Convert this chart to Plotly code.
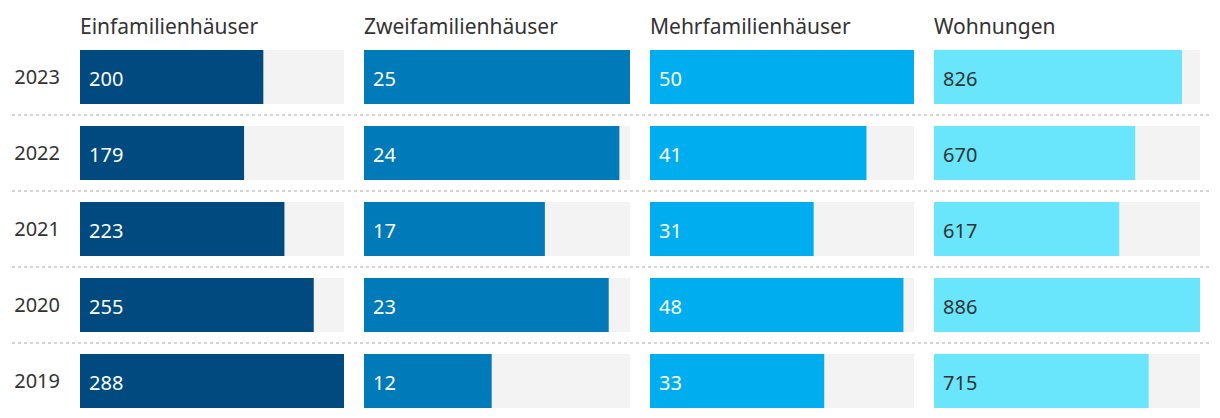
import plotly.graph_objects as go

years = ["2023", "2022", "2021", "2020", "2019"]
titles = ["Einfamilienhäuser", "Zweifamilienhäuser", "Mehrfamilienhäuser", "Wohnungen"]
einfamilien = [200, 179, 223, 255, 288]
zweifamilien = [25, 24, 17, 23, 12]
mehrfamilien = [50, 41, 31, 48, 33]
wohnungen = [826, 670, 617, 886, 715]

series = [einfamilien, zweifamilien, mehrfamilien, wohnungen]
colors = ["#004a80", "#007ab8", "#00aeef", "#69e5fc"]
text_colors = ["#ffffff", "#ffffff", "#ffffff", "#333333"]

OFF = 8  # page body margin
W, H = 1220 - OFF, 418 - OFF
panels_px = [(80, 344), (364, 630), (650, 914), (934, 1200)]
FONT = "Noto Sans"

def px(x):
    return (x - OFF) / W

def py(y):
    return 1 - (y - OFF) / H

fig = go.Figure()
yvals = list(range(len(years) - 1, -1, -1))  # 2023 at top
annotations = []
for i, (vals, col, tcol) in enumerate(zip(series, colors, text_colors)):
    xa = "x" if i == 0 else f"x{i+1}"
    ya = "y" if i == 0 else f"y{i+1}"
    vmax = max(vals)
    fig.add_trace(go.Bar(x=[vmax] * len(vals), y=yvals, orientation="h",
                         marker=dict(color="#f3f3f3", line=dict(width=0)),
                         width=54 / 76, xaxis=xa, yaxis=ya, hoverinfo="skip",
                         showlegend=False))
    fig.add_trace(go.Bar(x=vals, y=yvals, orientation="h",
                         marker=dict(color=col, line=dict(width=0)),
                         width=54 / 76, xaxis=xa, yaxis=ya, showlegend=False))
    for v, yv in zip(vals, yvals):
        annotations.append(dict(x=0, y=yv, xref=xa, yref=ya, text=str(v),
                                showarrow=False, xanchor="left", yanchor="middle",
                                xshift=7, yshift=-1,
                                font=dict(family=FONT, size=20, color=tcol)))
    x0, x1 = panels_px[i]
    annotations.append(dict(x=px(x0) - 2 / W, y=py(26), xref="paper", yref="paper",
                            text=titles[i], showarrow=False, xanchor="left",
                            yanchor="middle",
                            font=dict(family=FONT, size=21, color="#333333")))
    axis_x = dict(domain=[px(x0), px(x1)], range=[0, vmax], visible=False,
                  fixedrange=True)
    # row centres at 77 + 76*k px (page coords); 76 px per row
    yr = [4 - (418 - 77) / 76, 4 + (77 - OFF) / 76]
    axis_y = dict(domain=[0, 1], range=yr, showgrid=False, zeroline=False,
                  fixedrange=True, anchor=xa)
    if i == 0:
        axis_y.update(tickmode="array", tickvals=yvals, ticktext=years,
                      ticks="", ticklabelstandoff=19,
                      tickfont=dict(family=FONT, size=20, color="#333333"),
                      showline=False)
    else:
        axis_y.update(visible=False)
    fig.layout[f"xaxis{'' if i == 0 else i+1}"] = axis_x
    fig.layout[f"yaxis{'' if i == 0 else i+1}"] = axis_y

# dotted separators between rows
shapes = []
for k in range(len(years) - 1):
    yline = yvals[k] - 0.5
    shapes.append(dict(type="line", xref="paper", yref="y",
                       x0=px(12), x1=px(1209), y0=yline, y1=yline,
                       line=dict(color="#d4d4d4", width=2, dash="dot")))

fig.update_layout(width=W, height=H, margin=dict(l=0, r=0, t=0, b=0),
                  barmode="overlay", paper_bgcolor="white", plot_bgcolor="white",
                  annotations=annotations, shapes=shapes,
                  font=dict(family=FONT))
fig.write_html("out.html")
